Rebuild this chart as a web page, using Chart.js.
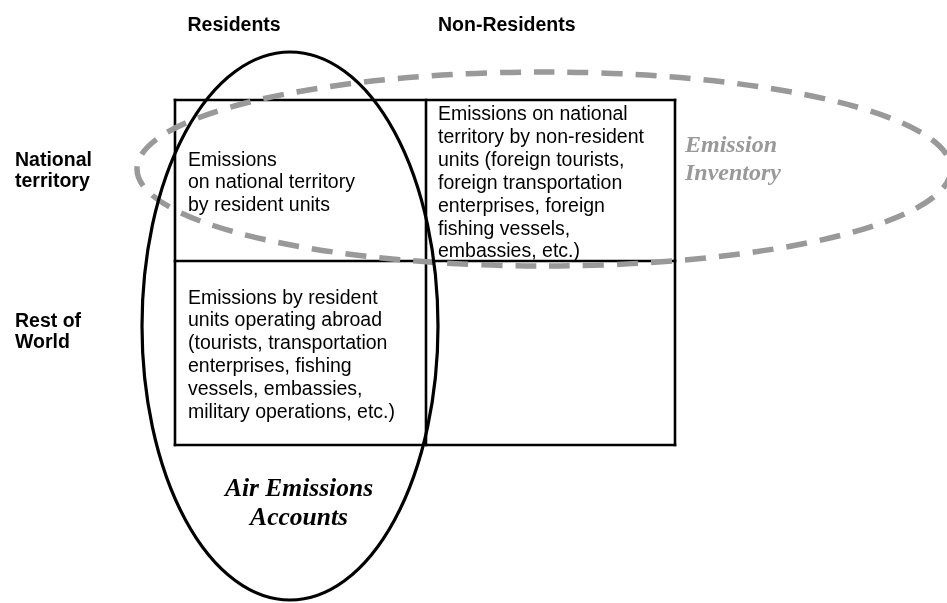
<!DOCTYPE html>
<html>
<head>
<meta charset="utf-8">
<script src="https://cdn.jsdelivr.net/npm/chart.js@4"></script>
<style>
  html, body { margin: 0; padding: 0; background: #fff; }
  #wrap { width: 947px; height: 603px; }
</style>
</head>
<body>
<div id="wrap"><canvas id="diagram" width="947" height="603"></canvas></div>
<script>
// Diagram data (diagram units = page units)
const colEdges = [175, 426, 675];
const rowEdges = [100, 261, 445];
const colHeaders = ['Residents', 'Non-Residents'];
const rowHeaders = [['National', 'territory'], ['Rest of', 'World']];
const cellTexts = [
    ['Emissions', 'on national territory', 'by resident units'],
    ['Emissions on national', 'territory by non-resident', 'units (foreign tourists,',
     'foreign transportation', 'enterprises, foreign', 'fishing vessels,', 'embassies, etc.)'],
    ['Emissions by resident', 'units operating abroad', '(tourists, transportation',
     'enterprises, fishing', 'vessels, embassies,', 'military operations, etc.)']
];
// ellipses: [centre x, centre y, radius x, radius y]
const accountsEllipse = [290, 326, 148, 274];
const inventoryEllipse = [544, 169, 407, 97];
const accountsLabel = ['Air Emissions', 'Accounts'];
const inventoryLabel = ['Emission', 'Inventory'];

const sans = '"Liberation Sans", Arial, sans-serif';
const serif = '"Liberation Serif", "Times New Roman", serif';

// grid lines as line datasets
const gridSets = [];
colEdges.forEach(x => gridSets.push({
    data: [{ x, y: rowEdges[0] }, { x, y: rowEdges[rowEdges.length - 1] }]
}));
rowEdges.forEach(y => gridSets.push({
    data: [{ x: colEdges[0], y }, { x: colEdges[colEdges.length - 1], y }]
}));
gridSets.forEach(d => Object.assign(d, {
    showLine: true, borderColor: '#000', borderWidth: 2.6, pointRadius: 0, borderCapStyle: 'square'
}));

function drawEllipse(chart, e, color, width, dash) {
    const { ctx, scales: { x, y } } = chart;
    const cx = x.getPixelForValue(e[0]);
    const cy = y.getPixelForValue(e[1]);
    const rx = x.getPixelForValue(e[0] + e[2]) - cx;
    const ry = y.getPixelForValue(e[1] + e[3]) - cy;
    ctx.save();
    ctx.strokeStyle = color;
    ctx.lineWidth = width;
    ctx.setLineDash(dash);
    ctx.beginPath();
    ctx.ellipse(cx, cy, Math.abs(rx), Math.abs(ry), 0, 0, Math.PI * 2);
    ctx.stroke();
    ctx.restore();
}

function drawLines(chart, lines, px, py, step, font, color, align) {
    const { ctx, scales: { x, y } } = chart;
    ctx.save();
    ctx.font = font;
    ctx.fillStyle = color;
    ctx.textAlign = align || 'left';
    ctx.textBaseline = 'alphabetic';
    lines.forEach((t, i) => ctx.fillText(t, x.getPixelForValue(px), y.getPixelForValue(py + i * step)));
    ctx.restore();
}

const overlay = {
    id: 'overlay',
    afterDatasetsDraw(chart) {
        drawEllipse(chart, inventoryEllipse, '#999999', 5.5, [21, 13]);
        drawEllipse(chart, accountsEllipse, '#000', 3.2, []);

        const body = '19.5px ' + sans;
        const head = 'bold 19.5px ' + sans;
        drawLines(chart, [colHeaders[0]], colEdges[0] + 12.5, 31, 0, head, '#000');
        drawLines(chart, [colHeaders[1]], colEdges[1] + 12, 31, 0, head, '#000');
        drawLines(chart, rowHeaders[0], 15, 166, 21, head, '#000');
        drawLines(chart, rowHeaders[1], 15, 327, 20.5, head, '#000');

        drawLines(chart, cellTexts[0], colEdges[0] + 13, 165.5, 22.5, body, '#000');
        drawLines(chart, cellTexts[1], colEdges[1] + 12, 120, 22.9, body, '#000');
        drawLines(chart, cellTexts[2], colEdges[0] + 13, 303.5, 22.9, body, '#000');

        drawLines(chart, accountsLabel, accountsEllipse[0] + 9, 496, 29, 'italic bold 25.5px ' + serif, '#000', 'center');
        drawLines(chart, inventoryLabel, colEdges[2] + 10, 152, 28, 'italic bold 24px ' + serif, '#999999');
    }
};

new Chart(document.getElementById('diagram').getContext('2d'), {
    type: 'scatter',
    data: { datasets: gridSets },
    options: {
        responsive: false,
        animation: false,
        layout: { padding: 0 },
        plugins: { legend: { display: false }, tooltip: { enabled: false } },
        scales: {
            x: { type: 'linear', min: 0, max: 947, display: false },
            y: { type: 'linear', min: 0, max: 603, reverse: true, display: false }
        }
    },
    plugins: [overlay]
});
</script>
</body>
</html>
